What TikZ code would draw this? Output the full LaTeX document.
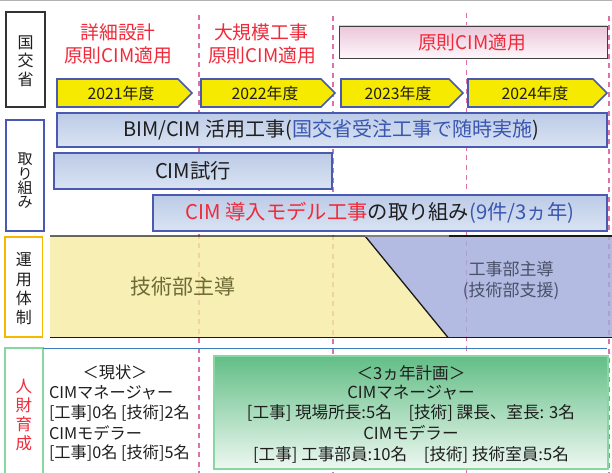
\documentclass[tikz,border=0pt]{standalone}
\usepackage{fontspec}
\setmainfont{Noto Sans CJK JP}
\definecolor{tred}{HTML}{F02A3A}
\definecolor{tblue}{HTML}{3A56B0}
\definecolor{tdark}{HTML}{1E1E1E}
\definecolor{barline}{HTML}{4A5AB0}
\definecolor{bartop}{HTML}{BCCBE7}
\definecolor{barbot}{HTML}{D9E3F2}
\definecolor{pinkline}{HTML}{E070A8}
\definecolor{yel}{HTML}{F6EA00}
\definecolor{bandyel}{HTML}{F6ECA1}
\definecolor{bandblue}{HTML}{A1ABDB}
\definecolor{pinktop}{HTML}{EBC6DA}
\definecolor{pinkbot}{HTML}{FDF6FA}
\definecolor{greentop}{HTML}{62BE86}
\definecolor{greenbot}{HTML}{EEF8F1}
\definecolor{greenline}{HTML}{88D6A2}
\definecolor{orangeline}{HTML}{F7B800}
\definecolor{sepblue}{HTML}{3A7CC0}
\definecolor{olive}{HTML}{6E6A36}
\definecolor{grayblue}{HTML}{4A5068}
\newcommand\fsz[1]{\fontsize{#1}{#1}\selectfont}
\begin{document}
\begin{tikzpicture}[x=1pt,y=-1pt,
  every node/.style={inner sep=0pt,outer sep=0pt,text=tdark},
  pinkdash/.style={draw=pinkline,line width=1.7pt,dash pattern=on 5pt off 4.5pt},
  yeararrow/.style={draw=barline,line width=1.6pt,fill=yel,line join=miter},
  yeartxt/.style={font=\fsz{15.8}},
  barbox/.style={draw=barline,line width=1.4pt,top color=bartop,bottom color=barbot},
  bartxt/.style={font=\fsz{20.3}},
  redhead/.style={font=\fsz{18.8},text=tred},
  vlabel/.style={align=center},
  bodytxt/.style={font=\fsz{16.2}}
]
\useasboundingbox (0,0) rectangle (612,473);
\fill[white] (0,0) rectangle (612,473);
\draw[black!30,line width=1.2pt] (0,0.6) -- (612,0.6);

% dashed year separators
\coordinate (d1t) at (199,15);  \coordinate (d1b) at (199,473);
\coordinate (d2t) at (333,16);  \coordinate (d2b) at (333,473);
\coordinate (d3t) at (466.5,13);\coordinate (d3b) at (466.5,473);
\coordinate (d4t) at (609,16);  \coordinate (d4b) at (609,473);
\draw[pinkdash] (d1t) -- (d1b);
\draw[pinkdash] (d2t) -- (d2b);
\draw[pinkdash] (d3t) -- (d3b);
\draw[pinkdash] (d4t) -- (d4b);

% left label boxes
\draw[draw=black!80,line width=1.6pt,fill=white] (6,12) rectangle (45,107);
\node[vlabel,font=\fontsize{16}{18.5}\selectfont] (lkok) at (25.5,61) {国\\交\\省};
\draw[draw=barline,line width=1.4pt,fill=white] (6,120) rectangle (44,231);
\node[vlabel,font=\fontsize{15}{14.3}\selectfont] (ltori) at (25,181) {取\\り\\組\\み};
\draw[draw=orangeline,line width=1.4pt,fill=white] (5,237) rectangle (42.5,337);
\node[vlabel,font=\fontsize{16}{19.3}\selectfont] (lunyo) at (24,289) {運\\用\\体\\制};
\draw[draw=greenline,line width=1.4pt,fill=white] (5,348) rectangle (43,480);
\node[vlabel,font=\fontsize{16.5}{18.7}\selectfont,text=tred] (ljin) at (24,415) {人\\財\\育\\成};

% red headings
\node[redhead] (h1a) at (118,32) {詳細設計};
\node[redhead] (h1b) at (118,55) {原則CIM適用};
\node[redhead] (h2a) at (261,32) {大規模工事};
\node[redhead] (h2b) at (262,55) {原則CIM適用};
\shade[top color=pinktop,bottom color=pinkbot] (339,26) rectangle (607,58);
\draw[draw=black!75,line width=0.9pt] (339,26) rectangle (607,58);
\node[redhead] (h3) at (472,42) {原則CIM適用};

% year arrows
\draw[yeararrow] (57,79) -- (178,79) -- (192,93) -- (178,107) -- (57,107) -- cycle;
\node[yeartxt] (y21) at (121,93) {2021年度};
\draw[yeararrow] (201,79) -- (321,79) -- (335,93) -- (321,107) -- (201,107) -- cycle;
\node[yeartxt] (y22) at (265,93) {2022年度};
\draw[yeararrow] (341,79) -- (449,79) -- (463,93) -- (449,107) -- (341,107) -- cycle;
\node[yeartxt] (y23) at (398,93) {2023年度};
\draw[yeararrow] (468,79) -- (593,79) -- (607,93) -- (593,107) -- (468,107) -- cycle;
\node[yeartxt] (y24) at (535,93) {2024年度};

% bars
\path[barbox] (57,113) rectangle (607,147);
\node[bartxt,font=\fsz{20}] (b1) at (331,130) {BIM/CIM 活用工事(\textcolor{tblue}{国交省受注工事で随時実施})};
\path[barbox] (54,153) rectangle (332,189);
\node[bartxt] (b2) at (193,171) {CIM試行};
\path[barbox] (153,195) rectangle (607,231);
\node[bartxt] (b3) at (380,213) {\textcolor{tred}{CIM 導入モデル工事}の取り組み\textcolor{tblue}{(9件/3ヵ年)}};

% operation band
\path[fill=bandyel,fill opacity=0.8] (50,236) -- (365,236) -- (448,337.5) -- (50,337.5) -- cycle;
\path[fill=bandblue,fill opacity=0.8] (365,236) -- (612,236) -- (612,337.5) -- (448,337.5) -- cycle;
\draw[black!90,line width=1.3pt] (50,236) -- (365,236) -- (448,337.5);
\draw[black!50,line width=1.3pt] (365,236) -- (449,236);
\draw[black!90,line width=1.3pt] (449,236) -- (612,236);
\draw[black!90,line width=1.3pt] (50,337.5) -- (612,337.5);
\node[font=\fsz{21},text=olive] (gijutsu) at (183,287) {技術部主導};
\node[font=\fsz{17},text=grayblue] (koji1) at (511,269) {工事部主導};
\node[font=\fsz{17},text=grayblue] (koji2) at (511,291) {(技術部支援)};

% separator
\draw[sepblue,line width=1pt] (43,348) -- (607,348);

% current status
\node[bodytxt] (gen0) at (115,372) {＜現状＞};
\node[bodytxt,anchor=west] (gen1) at (49,393) {CIMマネージャー};
\node[bodytxt,anchor=west] (gen2) at (49,413) {[工事]0名 [技術]2名};
\node[bodytxt,anchor=west] (gen3) at (49,433) {CIMモデラー};
\node[bodytxt,anchor=west] (gen4) at (49,453) {[工事]0名 [技術]5名};

% 3-year plan
\shade[top color=greentop,bottom color=greenbot] (214,356) rectangle (608,469);
\draw[draw=greenline,line width=1.8pt] (214,356) rectangle (608,469);
\node[bodytxt,font=\fsz{16.6}] (p0) at (411,373) {＜3ヵ年計画＞};
\node[bodytxt,font=\fsz{16.6}] (p1) at (411,393) {CIMマネージャー};
\node[bodytxt,font=\fsz{16.6}] (p2) at (411,413) {[工事] 現場所長:5名　[技術] 課長、室長: 3名};
\node[bodytxt,font=\fsz{16.6}] (p3) at (411,433) {CIMモデラー};
\node[bodytxt,font=\fsz{16.6}] (p4) at (411,455) {[工事] 工事部員:10名　[技術] 技術室員:5名};
\end{tikzpicture}
\end{document}
